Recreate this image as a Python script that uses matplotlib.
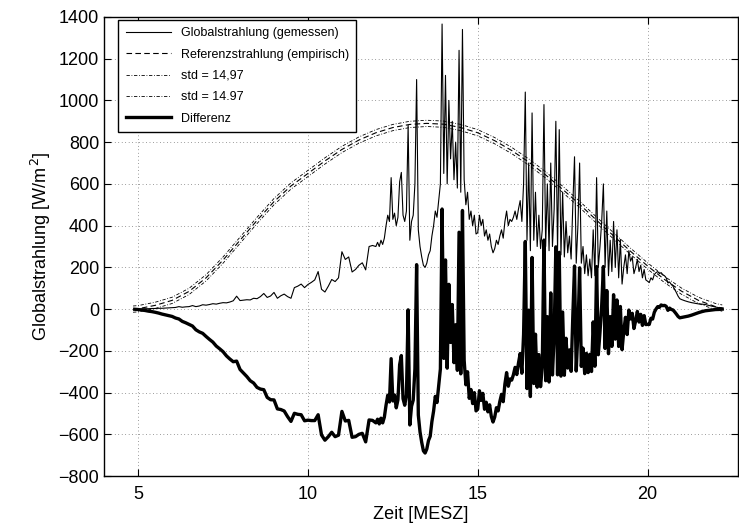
import numpy as np
import matplotlib
matplotlib.use('Agg')
import matplotlib.pyplot as plt

plt.rcParams['font.family'] = ['Liberation Sans', 'DejaVu Sans']

# Gemessene Globalstrahlung, drei Abschnitte mit unterschiedlicher Aufloesung
t_morning = np.arange(49, 120) / 10.0          # 4.9 ... 11.9 h
g_morning = [0, 0, 1, 2, 2, 3, 3, 4, 4, 5,
             6, 7, 8, 12, 9, 11, 12, 17, 12, 15,
             21, 19, 22, 26, 24, 28, 31, 30, 34, 40,
             62, 41, 43, 45, 44, 52, 50, 60, 75, 56,
             63, 80, 52, 64, 72, 60, 52, 103, 110, 120,
             103, 118, 128, 140, 180, 95, 82, 110, 142, 132,
             150, 275, 238, 250, 178, 190, 210, 222, 188, 300,
             305]

t_day = np.arange(240, 420) / 20.0             # 12.0 ... 20.95 h
g_day = [300, 320, 300, 330, 310, 340, 400, 450, 420, 630,      # 12
         430, 460, 400, 440, 610, 655, 450, 420, 470, 880,
         330, 420, 450, 600, 1100, 380, 300, 250, 210, 200,     # 13
         220, 260, 280, 350, 400, 470, 440, 520, 600, 1366,
         650, 1120, 600, 1000, 720, 900, 620, 800, 580, 1240,   # 14
         560, 1340, 620, 500, 560, 430, 470, 400, 450, 360,
         366, 450, 400, 430, 350, 380, 330, 360, 300, 270,      # 15
         290, 330, 310, 350, 380, 340, 420, 470, 400, 430,
         420, 440, 470, 430, 480, 520, 420, 600, 1040, 330,     # 16
         700, 280, 940, 330, 560, 300, 450, 290, 380, 980,
         300, 600, 280, 700, 300, 480, 900, 280, 860, 260,      # 17
         560, 250, 420, 270, 350, 240, 500, 730, 220, 400,
         700, 220, 300, 170, 260, 160, 240, 150, 380, 160,      # 18
         630, 200, 300, 420, 600, 200, 470, 160, 330, 180,
         420, 200, 380, 150, 334, 120, 200, 260, 170, 280,      # 19
         230, 250, 170, 200, 238, 180, 210, 150, 190, 140,
         134, 127, 150, 140, 166, 175, 180, 170, 175, 165,      # 20
         160, 150, 125, 130, 118, 110, 95, 79, 62, 50]

t_evening = np.arange(210, 223) / 10.0         # 21.0 ... 22.2 h
g_evening = [46, 40, 35, 31, 28, 25, 24, 22, 18, 14, 10, 7, 5]

# Empirische Referenzstrahlung (halbstuendlich)
ref_hours = [4.85, 5.0, 5.5, 6.0, 6.5, 7.0, 7.5, 8.0, 8.5, 9.0,
             9.5, 10.0, 10.5, 11.0, 11.5, 12.0, 12.5, 13.0, 13.5, 14.0,
             14.5, 15.0, 15.5, 16.0, 16.5, 17.0, 17.5, 18.0, 18.5, 19.0,
             19.5, 20.0, 20.5, 21.0, 21.5, 22.0, 22.2]
ref_values = [0, 2, 18, 42, 85, 150, 235, 330, 425, 515,
              590, 650, 710, 765, 810, 845, 870, 885, 890, 886,
              870, 845, 807, 760, 705, 643, 574, 502, 426, 351,
              277, 207, 142, 86, 42, 12, 5]
std = 14.97

t = np.concatenate([t_morning, t_day, t_evening])
g = np.array(g_morning + g_day + g_evening, dtype=float)
ref_t = np.array(ref_hours)
ref = np.array(ref_values, dtype=float)

# Differenz gemessen - Referenz
diff = g - np.interp(t, ref_t, ref)

fig = plt.figure(figsize=(7.39, 5.29), dpi=100)
ax = fig.add_axes([0.141, 0.100, 0.857, 0.868])

ax.plot(t, g, color='black', lw=0.8, label='Globalstrahlung (gemessen)')
ax.plot(ref_t, ref, color='black', lw=0.8, ls=(0, (5, 3)), label='Referenzstrahlung (empirisch)')
ax.plot(ref_t, ref + std, color='black', lw=0.6, ls=(0, (4, 2, 1, 2)), label='std = 14,97')
ax.plot(ref_t, ref - std, color='black', lw=0.6, ls=(0, (4, 2, 1, 2)), label='std = 14.97')
ax.plot(t, diff, color='black', lw=2.4, label='Differenz')

ax.set_xlim(4.0, 22.65)
ax.set_ylim(-800, 1400)
ax.set_xticks([5, 10, 15, 20])
ax.set_yticks(np.arange(-800, 1401, 200))
ax.tick_params(direction='in', length=5, width=0.8, top=True, right=True, labelsize=13)
ax.tick_params(axis='x', pad=7)
ax.grid(True, color='black', ls=(0, (1, 4)), lw=0.5, alpha=0.75)
for s in ax.spines.values():
    s.set_linewidth(1.0)

ax.set_xlabel('Zeit [MESZ]', fontsize=13, labelpad=2)
ax.set_ylabel(r'Globalstrahlung [W/m$^{\,2}$]', fontsize=13, labelpad=4)

leg = ax.legend(loc='upper left', bbox_to_anchor=(0.022, 0.994), borderaxespad=0,
                fontsize=9, handlelength=3.6, labelspacing=0.75, fancybox=False,
                framealpha=1, edgecolor='black', borderpad=0.6)
leg.get_frame().set_linewidth(1.0)

fig.savefig('out.png', dpi=100)
